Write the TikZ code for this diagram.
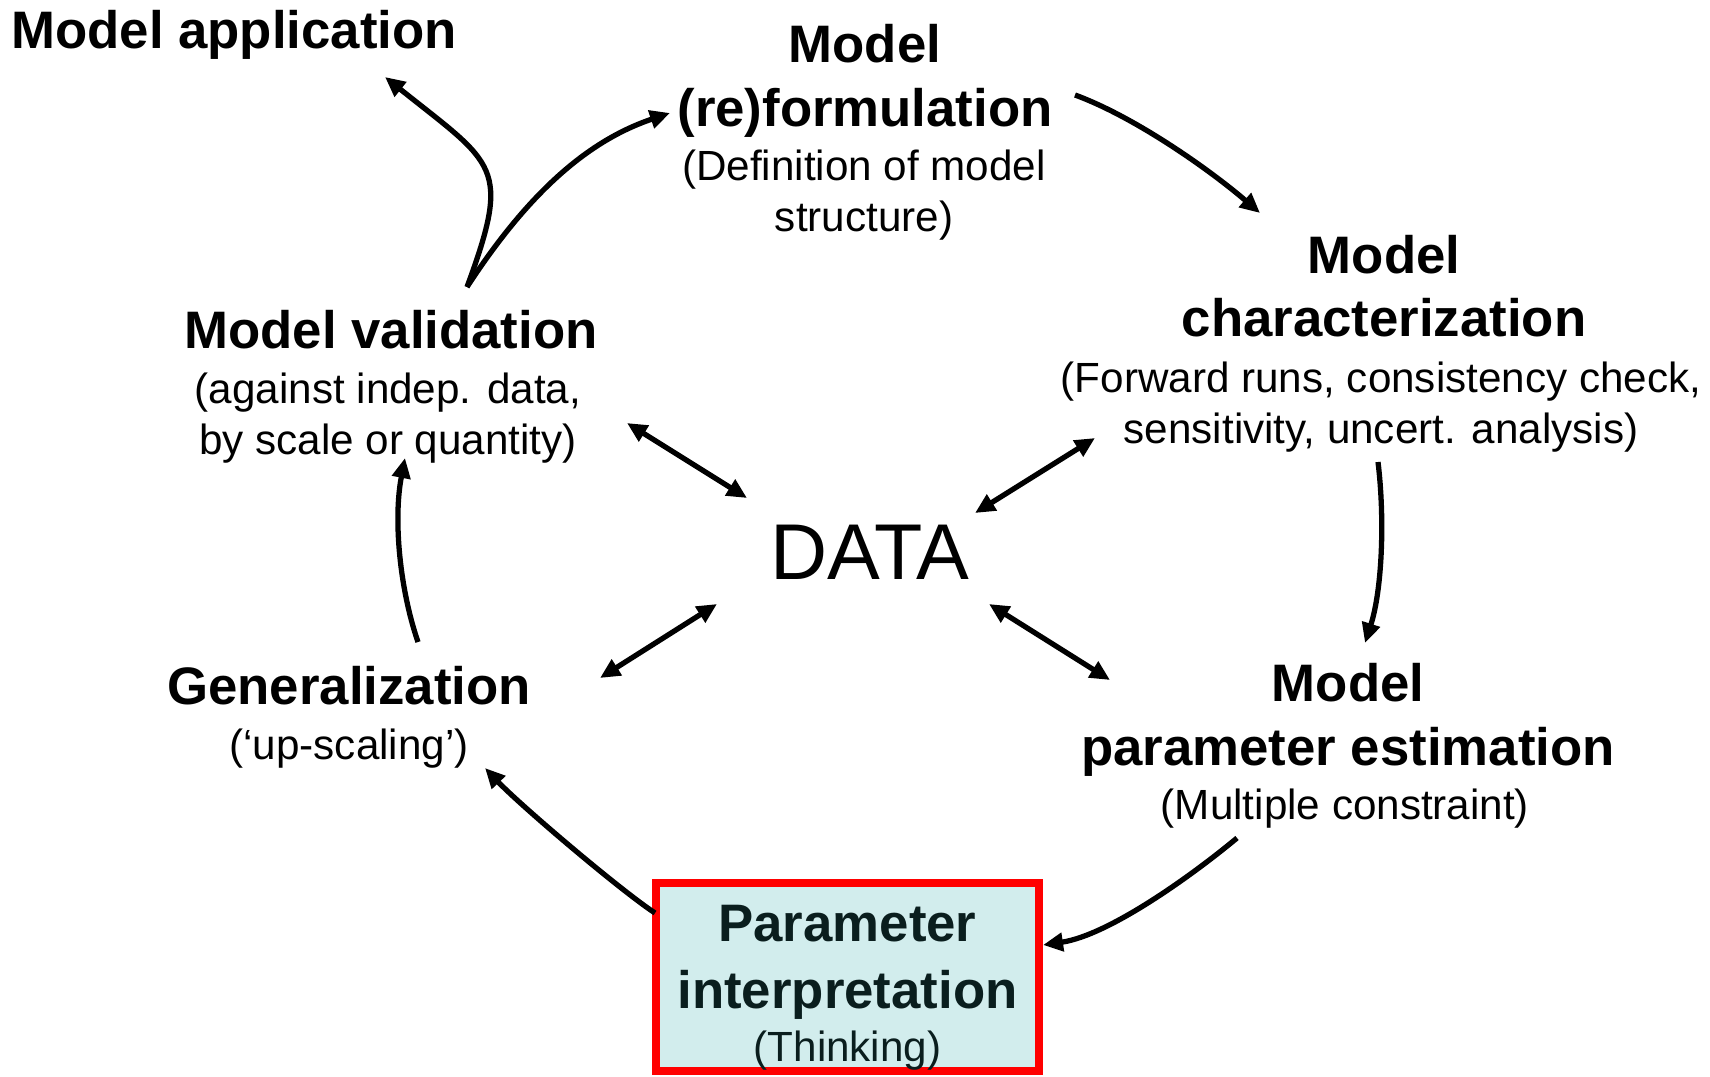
\documentclass[tikz,border=0pt]{standalone}
\usepackage{fontspec}
\setmainfont{Liberation Sans}
\usetikzlibrary{positioning,calc,arrows.meta}
\definecolor{boxred}{RGB}{255,0,0}
\definecolor{boxfill}{RGB}{210,237,237}
\definecolor{boxtext}{RGB}{10,30,30}
\tikzset{
    title/.style={
        font=\fontsize{15}{18}\selectfont\bfseries,
        align=center,
        inner sep=0pt
    },
    subtitle/.style={
        font=\fontsize{12}{14.4}\selectfont,
        align=center,
        inner sep=0pt
    },
    flow/.style={
        -{Triangle[length=0.2cm,width=0.18cm]},
        line width=1.5pt
    },
    link/.style={
        {Triangle[length=0.2cm,width=0.18cm]}-{Triangle[length=0.2cm,width=0.18cm]},
        line width=1.5pt
    },
    interpbox/.style={
        draw=boxred,
        fill=boxfill,
        line width=0.08cm,
        minimum width=3.83cm,
        minimum height=1.88cm,
        inner sep=0pt
    }
}

\begin{document}
\begin{tikzpicture}[x=0.01cm, y=-0.01cm]
    \useasboundingbox (0,0) rectangle (1710,1076);

    % Steps of the cycle
    \node[title] (app) at (234,35) {Model application};
    \node[title] (form) at (865,81) {Model\\(re)formulation};
    \node[subtitle] (formsub) at (864,195) {(Definition of model\\structure)};
    \node[title] (char) at (1384,286) {Model\\characterization};
    \node[subtitle] (charsub) at (1381,407) {(Forward runs, consistency check,\\sensitivity, uncert. analysis)};
    \node[title] (valid) at (391,330) {Model validation};
    \node[subtitle] (validsub) at (388,418) {(against indep. data,\\by scale or quantity)};
    \node[title] (gen) at (349,686) {Generalization};
    \node[subtitle] (gensub) at (349,749) {(‘up-scaling’)};
    \node[title] (est) at (1348,720) {Model\\parameter estimation};
    \node[subtitle] (estsub) at (1345,809) {(Multiple constraint)};

    % Centre
    \node[font=\fontsize{22.5}{27}\selectfont, inner sep=0pt] (data) at (870,552) {DATA};

    % Highlighted step
    \node[interpbox] (interp) at (847.5,977) {};
    \node[title, text=boxtext, font=\fontsize{15}{19}\selectfont\bfseries] (interptitle) at (847.5,962) {Parameter\\interpretation};
    \node[subtitle, text=boxtext] (interpsub) at (847.5,1051) {(Thinking)};

    % Cycle arrows
    \draw[flow] ($(valid)+(76,-43)$) .. controls +(45,-122) and +(110,88) .. ($(app)+(151,42)$);
    \draw[flow] ($(valid)+(76,-43)$) .. controls +(63,-97) and +(-80,27) .. ($(form)+(-195,32)$);
    \draw[flow] ($(form)+(210,14)$) .. controls +(60,22) and +(-50,-43) .. ($(char)+(-124,-73)$);
    \draw[flow] ($(charsub)+(-3,55)$) .. controls +(7,58) and +(17,-53) .. ($(est)+(17,-77)$);
    \draw[flow] ($(estsub)+(-108,29)$) .. controls +(-42,35) and +(67,-10) .. ($(interp)+(195.5,-32)$);
    \draw[flow] ($(interp)+(-192.5,-64)$) .. controls +(-35,-23) and +(35,37) .. ($(gensub)+(136,19)$);
    \draw[flow] ($(gen)+(69,-44)$) .. controls +(-18,-52) and +(-12,62) .. ($(validsub)+(17,40)$);

    % Links to the data
    \draw[link] ($(validsub)+(239,5)$) -- ($(data)+(-123,-54)$);
    \draw[link] ($(charsub)+(-286,31)$) -- ($(data)+(105,-39)$);
    \draw[link] ($(gen)+(251,-8)$) -- ($(data)+(-153,52)$);
    \draw[link] ($(est)+(-238,-40)$) -- ($(data)+(119,52)$);
\end{tikzpicture}
\end{document}
